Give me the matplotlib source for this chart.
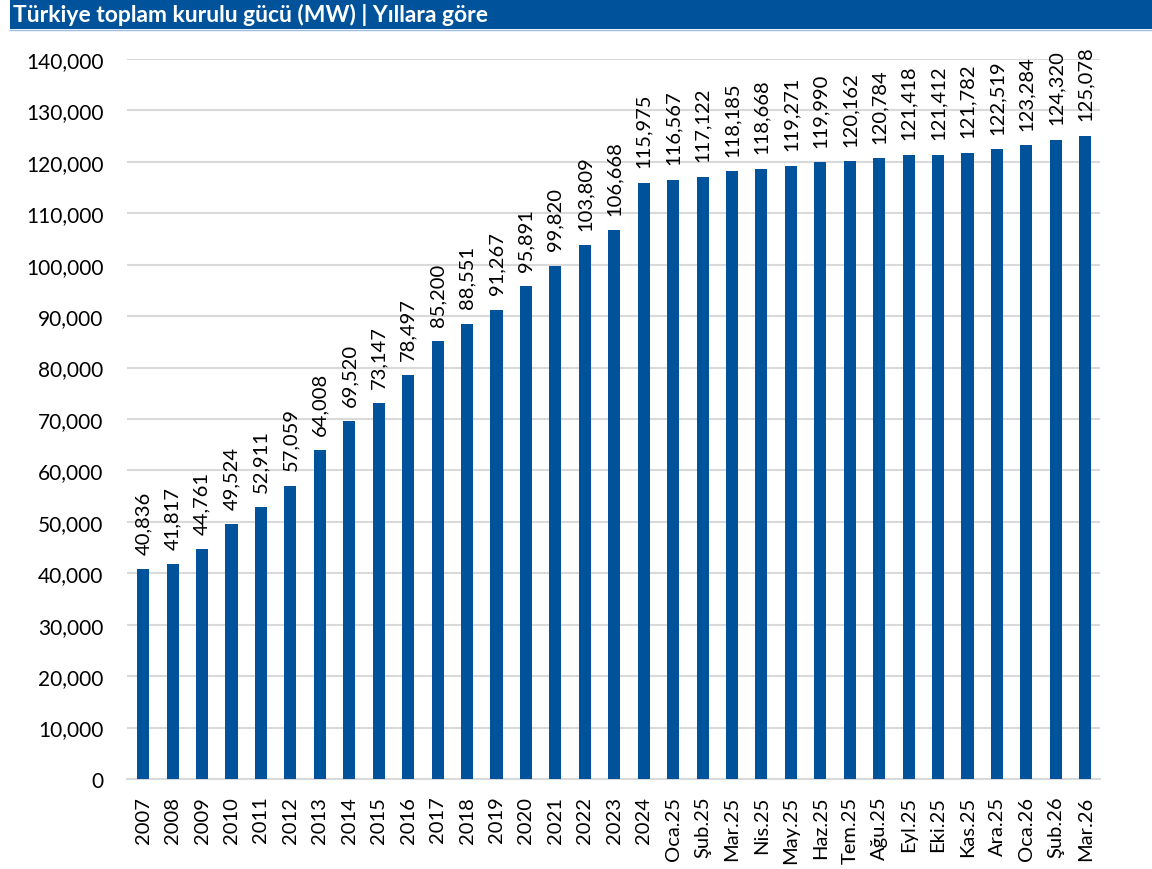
import matplotlib
matplotlib.use("Agg")
import matplotlib.pyplot as plt
from matplotlib.patches import Rectangle
from matplotlib.lines import Line2D
from matplotlib.ticker import FuncFormatter, MultipleLocator

categories = ["2007", "2008", "2009", "2010", "2011", "2012", "2013", "2014", "2015",
              "2016", "2017", "2018", "2019", "2020", "2021", "2022", "2023", "2024",
              "Oca.25", "Şub.25", "Mar.25", "Nis.25", "May.25", "Haz.25", "Tem.25",
              "Ağu.25", "Eyl.25", "Eki.25", "Kas.25", "Ara.25", "Oca.26", "Şub.26", "Mar.26"]
values = [40836, 41817, 44761, 49524, 52911, 57059, 64008, 69520, 73147,
          78497, 85200, 88551, 91267, 95891, 99820, 103809, 106668, 115975,
          116567, 117122, 118185, 118668, 119271, 119990, 120162,
          120784, 121418, 121412, 121782, 122519, 123284, 124320, 125078]
title = "Türkiye toplam kurulu gücü (MW) | Yıllara göre"

BLUE = "#00539B"
FONT = ["Lato", "DejaVu Sans"]
W, H = 1152, 870
fig = plt.figure(figsize=(W / 100, H / 100), dpi=100)

# title bar
fig.patches.append(Rectangle((10 / W, 1 - 30 / H), 1 - 10 / W, 30 / H,
                             transform=fig.transFigure, facecolor=BLUE, edgecolor="none"))
fig.lines.append(Line2D([10 / W, 1], [1 - 31 / H, 1 - 31 / H], transform=fig.transFigure,
                        color="#9DBCE0", lw=1))
fig.text(13 / W, 1 - 15 / H, title, color="white", fontsize=16.5, fontweight="bold",
         family=FONT, va="center", ha="left")

ax = fig.add_axes([127 / W, 1 - 780 / H, (1100 - 127) / W, (780 - 60) / H])
x = range(len(categories))
ax.bar(x, values, width=0.41, color=BLUE, zorder=3)
ax.set_xlim(-0.55, len(categories) - 0.5)
ax.set_ylim(0, 140000)
ax.yaxis.set_major_locator(MultipleLocator(10000))
ax.yaxis.set_major_formatter(FuncFormatter(lambda v, p: f"{int(v):,}"))
ax.grid(axis="y", color="#D9D9D9", lw=1.5, zorder=0)
for s in ["top", "right", "left"]:
    ax.spines[s].set_visible(False)
ax.spines["bottom"].set_color("#D9D9D9")
ax.spines["bottom"].set_linewidth(1.5)
ax.tick_params(axis="both", length=0)
ax.tick_params(axis="y", labelsize=15, pad=17)
ax.set_xticks(list(x))
ax.set_xticklabels(categories, rotation=90, fontsize=14.5)
ax.tick_params(axis="x", pad=12)
for lab in ax.get_yticklabels() + ax.get_xticklabels():
    lab.set_family(FONT)

for xi, v in zip(x, values):
    ax.annotate(f"{v:,}", (xi, v), xytext=(0, 11), textcoords="offset points",
                rotation=90, ha="center", va="bottom", fontsize=14.5, family=FONT)

fig.savefig("out.png", dpi=100)
